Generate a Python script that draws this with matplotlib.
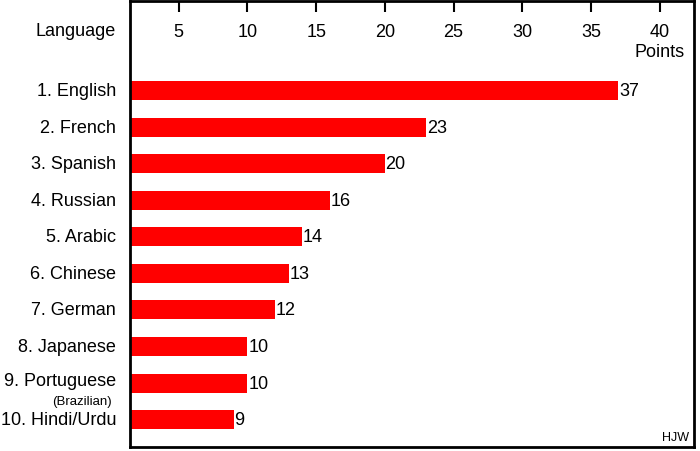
import matplotlib.pyplot as plt

languages = ['1. English', '2. French', '3. Spanish', '4. Russian', '5. Arabic',
             '6. Chinese', '7. German', '8. Japanese', '9. Portuguese', '10. Hindi/Urdu']
points = [37, 23, 20, 16, 14, 13, 12, 10, 10, 9]
ticks = [5, 10, 15, 20, 25, 30, 35, 40]

plt.rcParams['font.family'] = ['Liberation Sans', 'DejaVu Sans']

fig = plt.figure(figsize=(7, 4.52), dpi=100)
ax = fig.add_axes([130 / 700, 4 / 452, 564 / 700, 446 / 452])

y = list(range(len(languages)))
ax.barh(y, points, left=0, height=0.52, color='#ff0000')
ax.set_xlim(1.45, 42.5)
ax.set_ylim(9.75, -2.45)

# value labels at bar ends
for i, v in enumerate(points):
    ax.text(v + 0.05, i, str(v), va='center', ha='left', fontsize=13)

# top ticks inside, labels below them
ax.tick_params(axis='x', direction='in', top=True, bottom=False,
               labeltop=False, labelbottom=False, length=8, width=1.5)
ax.set_xticks(ticks)
for t in ticks:
    ax.text(t, -1.62, str(t), ha='center', va='center', fontsize=13)
ax.text(40, -1.08, 'Points', ha='center', va='center', fontsize=13)

# category labels on the left
ax.set_yticks([])
lab_kw = dict(ha='right', va='center', fontsize=13, clip_on=False,
              textcoords='offset points', xycoords=('axes fraction', 'data'))
for i, name in enumerate(languages):
    yy = i - 0.08 if i == 8 else i
    ax.annotate(name, (0, yy), xytext=(-10, 0), **lab_kw)
ax.annotate('Language', (0, -1.65), xytext=(-10, 0), **lab_kw)
ax.annotate('(Brazilian)', (0, 8.48), xytext=(-13, 0), ha='right', va='center',
            fontsize=9.5, textcoords='offset points',
            xycoords=('axes fraction', 'data'))

ax.text(0.992, 0.008, 'HJW', transform=ax.transAxes, ha='right', va='bottom', fontsize=9)

for s in ax.spines.values():
    s.set_linewidth(2)

fig.savefig('out.png', dpi=100)
